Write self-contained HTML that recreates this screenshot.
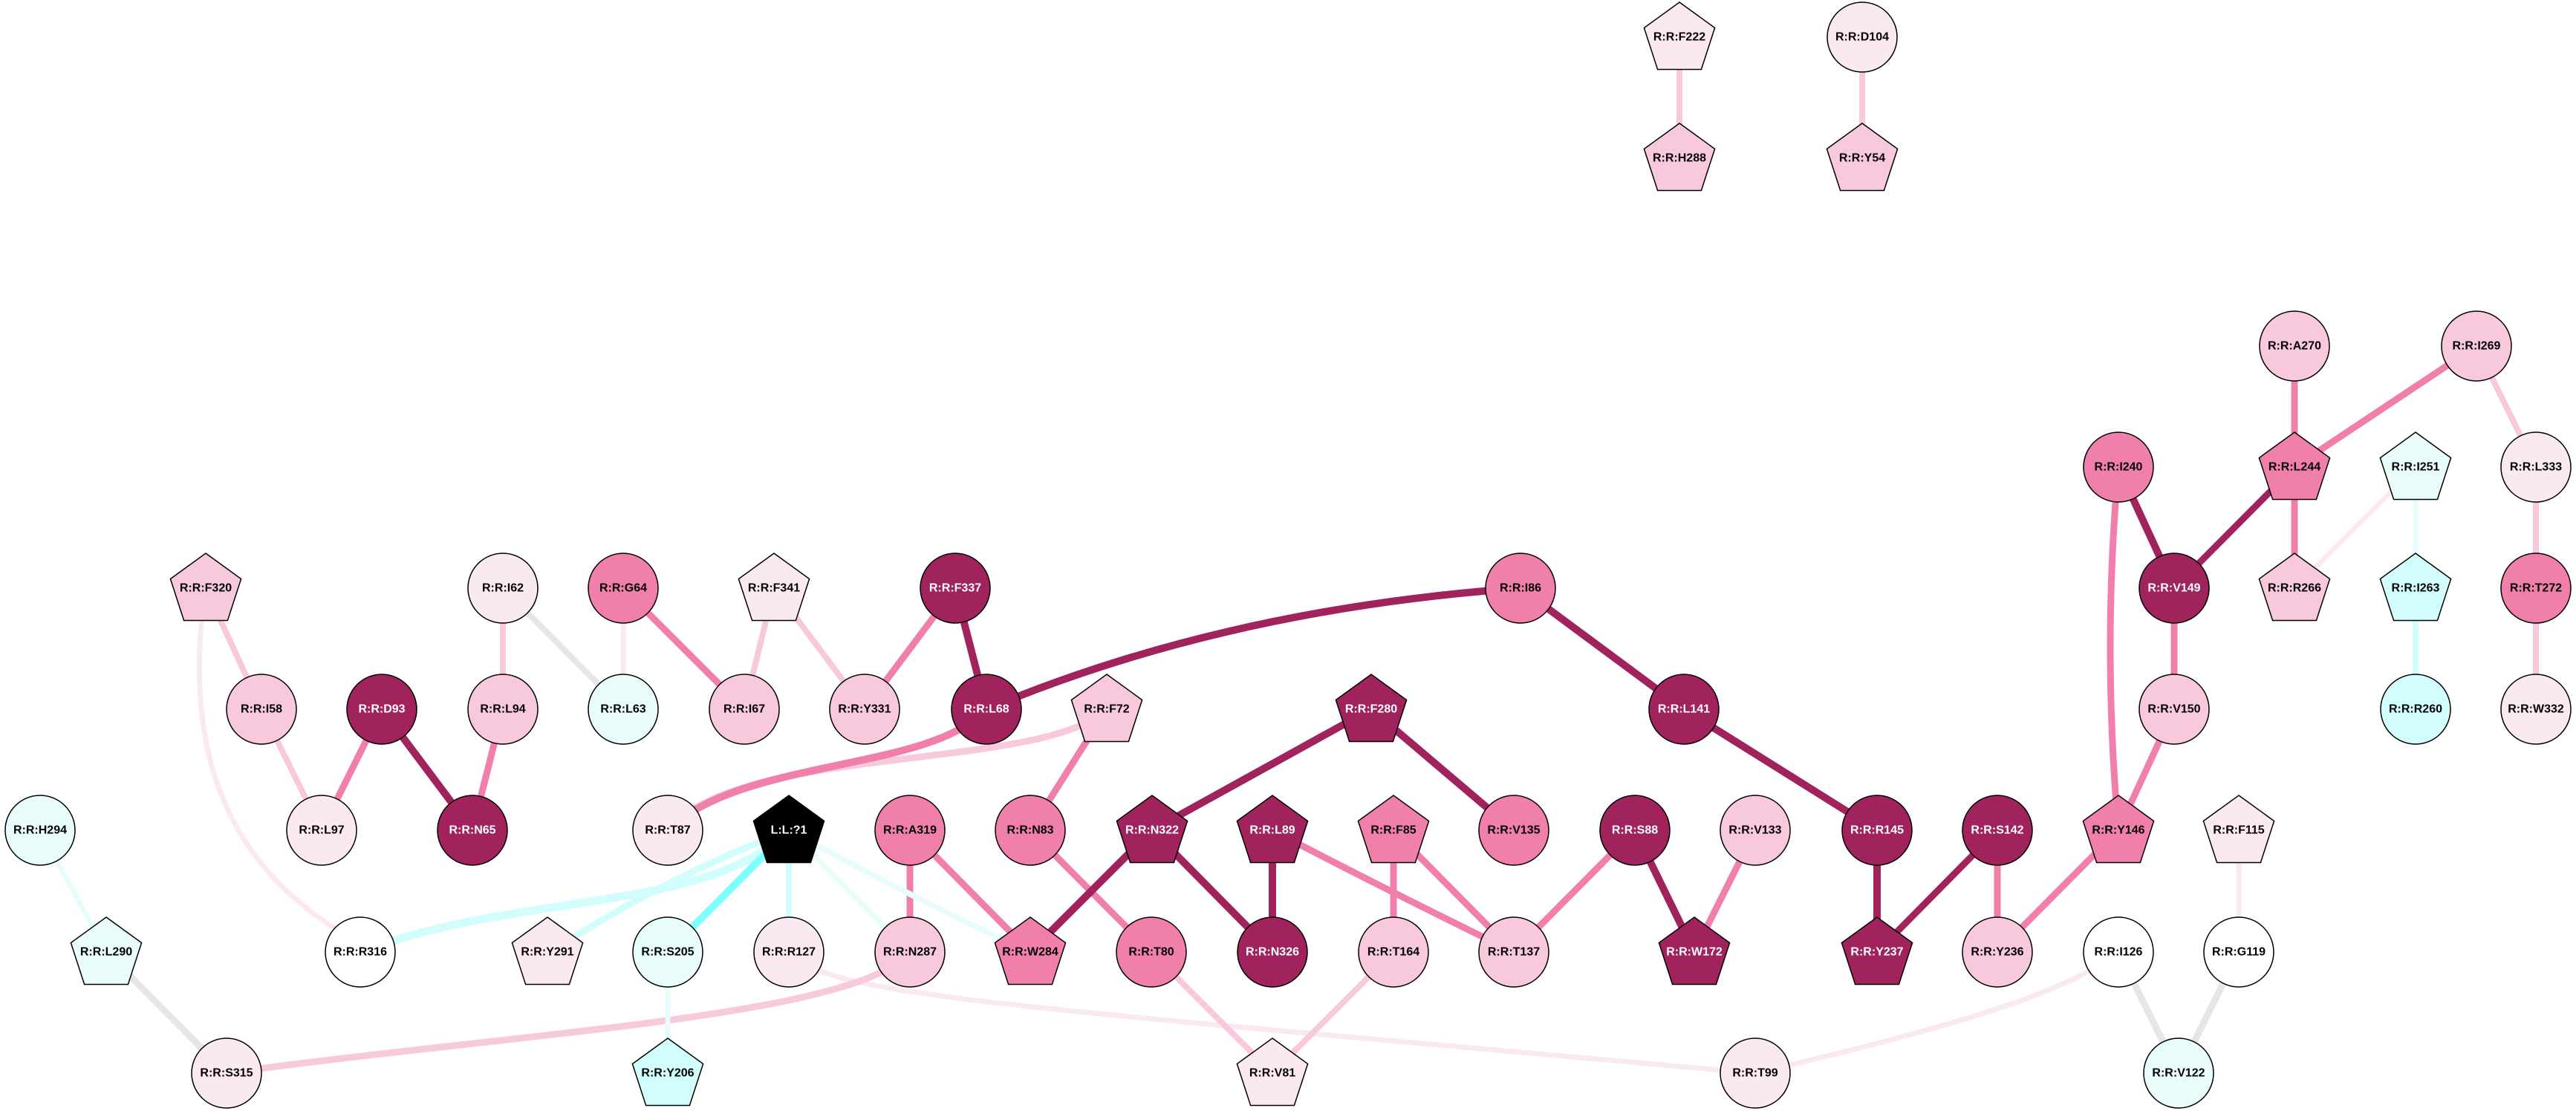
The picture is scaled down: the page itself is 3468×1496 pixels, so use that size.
<!DOCTYPE html>
<html><head><meta charset="utf-8"><style>
html,body{margin:0;padding:0;background:#fff;}
svg{display:block;}
text{font-family:"Liberation Sans",Arial,sans-serif;font-weight:bold;font-size:16px;text-anchor:middle;dominant-baseline:central;}
</style></head><body>
<svg width="3468" height="1496" viewBox="0 0 3468 1496" xmlns="http://www.w3.org/2000/svg">
<defs>
<polygon id="pg" points="0,-47 47.6,-12.5 29.4,43.5 -29.4,43.5 -47.6,-12.5" stroke="#000" stroke-width="1.5"/>
<ellipse id="ci" cx="0" cy="0" rx="47" ry="47" stroke="#000" stroke-width="1.5"/>
</defs>
<g fill="none" stroke-linecap="butt">
<!-- top -->
<line x1="2261" y1="50" x2="2261" y2="213" stroke="#f8c8dc" stroke-width="8"/>
<line x1="2507" y1="50" x2="2507" y2="213" stroke="#f8c8dc" stroke-width="8"/>
<!-- right cluster -->
<line x1="3089" y1="466" x2="3089" y2="629" stroke="#f07fab" stroke-width="9"/>
<line x1="3334" y1="466" x2="3089" y2="629" stroke="#f07fab" stroke-width="9"/>
<line x1="3334" y1="466" x2="3414" y2="629" stroke="#f8c8dc" stroke-width="8"/>
<line x1="3089" y1="629" x2="2927" y2="792" stroke="#a0235e" stroke-width="9"/>
<line x1="3089" y1="629" x2="3089" y2="792" stroke="#f07fab" stroke-width="9"/>
<line x1="3252" y1="629" x2="3089" y2="792" stroke="#fbe9f1" stroke-width="7"/>
<line x1="3252" y1="629" x2="3252" y2="792" stroke="#e8fcfc" stroke-width="7"/>
<line x1="2852" y1="629" x2="2927" y2="792" stroke="#a0235e" stroke-width="10"/>
<path d="M2852,629 Q2830,870 2852,1118" stroke="#f07fab" stroke-width="9"/>
<line x1="2927" y1="792" x2="2927" y2="955" stroke="#f07fab" stroke-width="9"/>
<line x1="2927" y1="955" x2="2852" y2="1118" stroke="#f07fab" stroke-width="9"/>
<line x1="3414" y1="629" x2="3414" y2="792" stroke="#f8c8dc" stroke-width="8"/>
<line x1="3414" y1="792" x2="3414" y2="955" stroke="#f8c8dc" stroke-width="8"/>
<line x1="3252" y1="792" x2="3252" y2="955" stroke="#d2fdfd" stroke-width="8"/>
<line x1="2689" y1="1118" x2="2527" y2="1282" stroke="#a0235e" stroke-width="9"/>
<line x1="2689" y1="1118" x2="2689" y2="1282" stroke="#f07fab" stroke-width="9"/>
<line x1="2852" y1="1118" x2="2689" y2="1282" stroke="#f07fab" stroke-width="9"/>
<line x1="3014" y1="1118" x2="3014" y2="1282" stroke="#fbe9f1" stroke-width="7"/>
<line x1="2852" y1="1282" x2="2933" y2="1445" stroke="#e6e6e6" stroke-width="9"/>
<line x1="3014" y1="1282" x2="2933" y2="1445" stroke="#e6e6e6" stroke-width="9"/>
<path d="M2852,1282 C2780,1340 2600,1390 2363,1445" stroke="#fbe9f1" stroke-width="7"/>
<path d="M1062,1282 C1120,1340 1300,1350 2363,1445" stroke="#fbe9f1" stroke-width="7"/>
<!-- left cluster -->
<line x1="277" y1="792" x2="352" y2="955" stroke="#f8c8dc" stroke-width="8"/>
<path d="M272,830 C250,1050 330,1180 470,1262" stroke="#fbe9f1" stroke-width="7"/>
<line x1="677" y1="792" x2="677" y2="955" stroke="#f8c8dc" stroke-width="8"/>
<line x1="677" y1="792" x2="839" y2="955" stroke="#e6e6e6" stroke-width="8"/>
<line x1="839" y1="792" x2="839" y2="955" stroke="#fbe9f1" stroke-width="7"/>
<line x1="839" y1="792" x2="1002" y2="955" stroke="#f07fab" stroke-width="9"/>
<line x1="1042" y1="792" x2="1002" y2="955" stroke="#f8c8dc" stroke-width="8"/>
<line x1="1042" y1="792" x2="1164" y2="955" stroke="#f8c8dc" stroke-width="8"/>
<line x1="1286" y1="792" x2="1164" y2="955" stroke="#f07fab" stroke-width="9"/>
<line x1="1286" y1="792" x2="1328" y2="955" stroke="#a0235e" stroke-width="10"/>
<line x1="352" y1="955" x2="433" y2="1118" stroke="#f8c8dc" stroke-width="8"/>
<line x1="514" y1="955" x2="433" y2="1118" stroke="#f07fab" stroke-width="9"/>
<line x1="514" y1="955" x2="636" y2="1118" stroke="#a0235e" stroke-width="10"/>
<line x1="677" y1="955" x2="636" y2="1118" stroke="#f07fab" stroke-width="9"/>
<path d="M1490,955 C1400,1040 1000,1000 899,1118" stroke="#f8c8dc" stroke-width="9"/>
<path d="M1328,955 C1250,1040 1000,1020 899,1118" stroke="#f07fab" stroke-width="10"/>
<path d="M2047,792 Q1650,820 1328,955" stroke="#a0235e" stroke-width="10"/>
<line x1="2047" y1="792" x2="2267" y2="955" stroke="#a0235e" stroke-width="10"/>
<line x1="1490" y1="955" x2="1387" y2="1118" stroke="#f07fab" stroke-width="9"/>
<line x1="1846" y1="955" x2="1551" y2="1118" stroke="#a0235e" stroke-width="10"/>
<line x1="1846" y1="955" x2="2038" y2="1118" stroke="#a0235e" stroke-width="10"/>
<line x1="2267" y1="955" x2="2527" y2="1118" stroke="#a0235e" stroke-width="10"/>
<line x1="1225" y1="1118" x2="1225" y2="1282" stroke="#f07fab" stroke-width="9"/>
<line x1="1225" y1="1118" x2="1387" y2="1282" stroke="#f07fab" stroke-width="9"/>
<line x1="1387" y1="1118" x2="1550" y2="1282" stroke="#f07fab" stroke-width="9"/>
<line x1="1551" y1="1118" x2="1387" y2="1282" stroke="#a0235e" stroke-width="10"/>
<line x1="1551" y1="1118" x2="1713" y2="1282" stroke="#a0235e" stroke-width="10"/>
<line x1="1713" y1="1118" x2="1713" y2="1282" stroke="#a0235e" stroke-width="10"/>
<path d="M1713,1118 Q1850,1190 2038,1282" stroke="#f07fab" stroke-width="9"/>
<line x1="1876" y1="1118" x2="1876" y2="1282" stroke="#f07fab" stroke-width="9"/>
<line x1="1876" y1="1118" x2="2038" y2="1282" stroke="#f07fab" stroke-width="9"/>
<line x1="2201" y1="1118" x2="2038" y2="1282" stroke="#f07fab" stroke-width="9"/>
<line x1="2201" y1="1118" x2="2281" y2="1282" stroke="#a0235e" stroke-width="10"/>
<line x1="2363" y1="1118" x2="2281" y2="1282" stroke="#f07fab" stroke-width="9"/>
<line x1="2527" y1="1118" x2="2527" y2="1282" stroke="#a0235e" stroke-width="10"/>
<line x1="1550" y1="1282" x2="1713" y2="1445" stroke="#f8c8dc" stroke-width="8"/>
<line x1="1876" y1="1282" x2="1713" y2="1445" stroke="#f8c8dc" stroke-width="8"/>
<line x1="54" y1="1118" x2="143" y2="1282" stroke="#e8fcfc" stroke-width="7"/>
<line x1="143" y1="1282" x2="305" y2="1445" stroke="#e6e6e6" stroke-width="9"/>
<path d="M1225,1282 C1150,1370 700,1390 305,1445" stroke="#f8c8dc" stroke-width="9"/>
<line x1="899" y1="1282" x2="899" y2="1445" stroke="#e8fcfc" stroke-width="7"/>
<!-- ligand -->
<path d="M1062,1118 C950,1230 700,1200 485,1282" stroke="#d2fdfd" stroke-width="11"/>
<path d="M1062,1118 Q900,1180 760,1270" stroke="#d2fdfd" stroke-width="9"/>
<line x1="1062" y1="1118" x2="899" y2="1282" stroke="#80ffff" stroke-width="10"/>
<line x1="1062" y1="1118" x2="1062" y2="1282" stroke="#d2fdfd" stroke-width="8"/>
<line x1="1062" y1="1118" x2="1225" y2="1282" stroke="#e8fcfc" stroke-width="8"/>
<path d="M1062,1118 Q1250,1220 1387,1282" stroke="#e8fcfc" stroke-width="8"/>
</g>
<g>
<!-- nodes: use id, fill, x,y, label, textcolor -->
<use href="#pg" x="2261" y="50" fill="#fbe9f1"/><text x="2261" y="50">R:R:F222</text>
<use href="#pg" x="2261" y="213" fill="#f8c8dc"/><text x="2261" y="213">R:R:H288</text>
<use href="#ci" x="2507" y="50" fill="#fbe9f1"/><text x="2507" y="50">R:R:D104</text>
<use href="#pg" x="2507" y="213" fill="#f8c8dc"/><text x="2507" y="213">R:R:Y54</text>

<use href="#ci" x="3089" y="466" fill="#f8c8dc"/><text x="3089" y="466">R:R:A270</text>
<use href="#ci" x="3334" y="466" fill="#f8c8dc"/><text x="3334" y="466">R:R:I269</text>
<use href="#ci" x="2852" y="629" fill="#f07fab"/><text x="2852" y="629">R:R:I240</text>
<use href="#pg" x="3089" y="629" fill="#f07fab"/><text x="3089" y="629">R:R:L244</text>
<use href="#pg" x="3252" y="629" fill="#e8fcfc"/><text x="3252" y="629">R:R:I251</text>
<use href="#ci" x="3414" y="629" fill="#fbe9f1"/><text x="3414" y="629">R:R:L333</text>

<use href="#pg" x="277" y="792" fill="#f8c8dc"/><text x="277" y="792">R:R:F320</text>
<use href="#ci" x="677" y="792" fill="#fbe9f1"/><text x="677" y="792">R:R:I62</text>
<use href="#ci" x="839" y="792" fill="#f07fab"/><text x="839" y="792">R:R:G64</text>
<use href="#pg" x="1042" y="792" fill="#fbe9f1"/><text x="1042" y="792">R:R:F341</text>
<use href="#ci" x="1286" y="792" fill="#a0235e"/><text x="1286" y="792" fill="#fff">R:R:F337</text>
<use href="#ci" x="2047" y="792" fill="#f07fab"/><text x="2047" y="792">R:R:I86</text>
<use href="#ci" x="2927" y="792" fill="#a0235e"/><text x="2927" y="792" fill="#fff">R:R:V149</text>
<use href="#pg" x="3089" y="792" fill="#f8c8dc"/><text x="3089" y="792">R:R:R266</text>
<use href="#pg" x="3252" y="792" fill="#d2fdfd"/><text x="3252" y="792">R:R:I263</text>
<use href="#ci" x="3414" y="792" fill="#f07fab"/><text x="3414" y="792">R:R:T272</text>

<use href="#ci" x="352" y="955" fill="#f8c8dc"/><text x="352" y="955">R:R:I58</text>
<use href="#ci" x="514" y="955" fill="#a0235e"/><text x="514" y="955" fill="#fff">R:R:D93</text>
<use href="#ci" x="677" y="955" fill="#f8c8dc"/><text x="677" y="955">R:R:L94</text>
<use href="#ci" x="839" y="955" fill="#e8fcfc"/><text x="839" y="955">R:R:L63</text>
<use href="#ci" x="1002" y="955" fill="#f8c8dc"/><text x="1002" y="955">R:R:I67</text>
<use href="#ci" x="1164" y="955" fill="#f8c8dc"/><text x="1164" y="955">R:R:Y331</text>
<use href="#ci" x="1328" y="955" fill="#a0235e"/><text x="1328" y="955" fill="#fff">R:R:L68</text>
<use href="#pg" x="1490" y="955" fill="#f8c8dc"/><text x="1490" y="955">R:R:F72</text>
<use href="#pg" x="1846" y="955" fill="#a0235e"/><text x="1846" y="955" fill="#fff">R:R:F280</text>
<use href="#ci" x="2267" y="955" fill="#a0235e"/><text x="2267" y="955" fill="#fff">R:R:L141</text>
<use href="#ci" x="2927" y="955" fill="#f8c8dc"/><text x="2927" y="955">R:R:V150</text>
<use href="#ci" x="3252" y="955" fill="#d2fdfd"/><text x="3252" y="955">R:R:R260</text>
<use href="#ci" x="3414" y="955" fill="#fbe9f1"/><text x="3414" y="955">R:R:W332</text>

<use href="#ci" x="54" y="1118" fill="#e8fcfc"/><text x="54" y="1118">R:R:H294</text>
<use href="#ci" x="433" y="1118" fill="#fbe9f1"/><text x="433" y="1118">R:R:L97</text>
<use href="#ci" x="636" y="1118" fill="#a0235e"/><text x="636" y="1118" fill="#fff">R:R:N65</text>
<use href="#ci" x="899" y="1118" fill="#fbe9f1"/><text x="899" y="1118">R:R:T87</text>
<use href="#pg" x="1062" y="1118" fill="#000"/><text x="1062" y="1118" fill="#fff">L:L:?1</text>
<use href="#ci" x="1225" y="1118" fill="#f07fab"/><text x="1225" y="1118">R:R:A319</text>
<use href="#ci" x="1387" y="1118" fill="#f07fab"/><text x="1387" y="1118">R:R:N83</text>
<use href="#pg" x="1551" y="1118" fill="#a0235e"/><text x="1551" y="1118" fill="#fff">R:R:N322</text>
<use href="#pg" x="1713" y="1118" fill="#a0235e"/><text x="1713" y="1118" fill="#fff">R:R:L89</text>
<use href="#pg" x="1876" y="1118" fill="#f07fab"/><text x="1876" y="1118">R:R:F85</text>
<use href="#ci" x="2038" y="1118" fill="#f07fab"/><text x="2038" y="1118">R:R:V135</text>
<use href="#ci" x="2201" y="1118" fill="#a0235e"/><text x="2201" y="1118" fill="#fff">R:R:S88</text>
<use href="#ci" x="2363" y="1118" fill="#f8c8dc"/><text x="2363" y="1118">R:R:V133</text>
<use href="#ci" x="2527" y="1118" fill="#a0235e"/><text x="2527" y="1118" fill="#fff">R:R:R145</text>
<use href="#ci" x="2689" y="1118" fill="#a0235e"/><text x="2689" y="1118" fill="#fff">R:R:S142</text>
<use href="#pg" x="2852" y="1118" fill="#f07fab"/><text x="2852" y="1118">R:R:Y146</text>
<use href="#pg" x="3014" y="1118" fill="#fbe9f1"/><text x="3014" y="1118">R:R:F115</text>

<use href="#pg" x="143" y="1282" fill="#e8fcfc"/><text x="143" y="1282">R:R:L290</text>
<use href="#ci" x="485" y="1282" fill="#fff"/><text x="485" y="1282">R:R:R316</text>
<use href="#pg" x="737" y="1282" fill="#fbe9f1"/><text x="737" y="1282">R:R:Y291</text>
<use href="#ci" x="899" y="1282" fill="#e8fcfc"/><text x="899" y="1282">R:R:S205</text>
<use href="#ci" x="1062" y="1282" fill="#fbe9f1"/><text x="1062" y="1282">R:R:R127</text>
<use href="#ci" x="1225" y="1282" fill="#f8c8dc"/><text x="1225" y="1282">R:R:N287</text>
<use href="#pg" x="1387" y="1282" fill="#f07fab"/><text x="1387" y="1282">R:R:W284</text>
<use href="#ci" x="1550" y="1282" fill="#f07fab"/><text x="1550" y="1282">R:R:T80</text>
<use href="#ci" x="1713" y="1282" fill="#a0235e"/><text x="1713" y="1282" fill="#fff">R:R:N326</text>
<use href="#ci" x="1876" y="1282" fill="#f8c8dc"/><text x="1876" y="1282">R:R:T164</text>
<use href="#ci" x="2038" y="1282" fill="#f8c8dc"/><text x="2038" y="1282">R:R:T137</text>
<use href="#pg" x="2281" y="1282" fill="#a0235e"/><text x="2281" y="1282" fill="#fff">R:R:W172</text>
<use href="#pg" x="2527" y="1282" fill="#a0235e"/><text x="2527" y="1282" fill="#fff">R:R:Y237</text>
<use href="#ci" x="2689" y="1282" fill="#f8c8dc"/><text x="2689" y="1282">R:R:Y236</text>
<use href="#ci" x="2852" y="1282" fill="#fff"/><text x="2852" y="1282">R:R:I126</text>
<use href="#ci" x="3014" y="1282" fill="#fff"/><text x="3014" y="1282">R:R:G119</text>

<use href="#ci" x="305" y="1445" fill="#fbe9f1"/><text x="305" y="1445">R:R:S315</text>
<use href="#pg" x="899" y="1445" fill="#d2fdfd"/><text x="899" y="1445">R:R:Y206</text>
<use href="#pg" x="1713" y="1445" fill="#fbe9f1"/><text x="1713" y="1445">R:R:V81</text>
<use href="#ci" x="2363" y="1445" fill="#fbe9f1"/><text x="2363" y="1445">R:R:T99</text>
<use href="#ci" x="2933" y="1445" fill="#e8fcfc"/><text x="2933" y="1445">R:R:V122</text>
</g>
</svg>
</body></html>
